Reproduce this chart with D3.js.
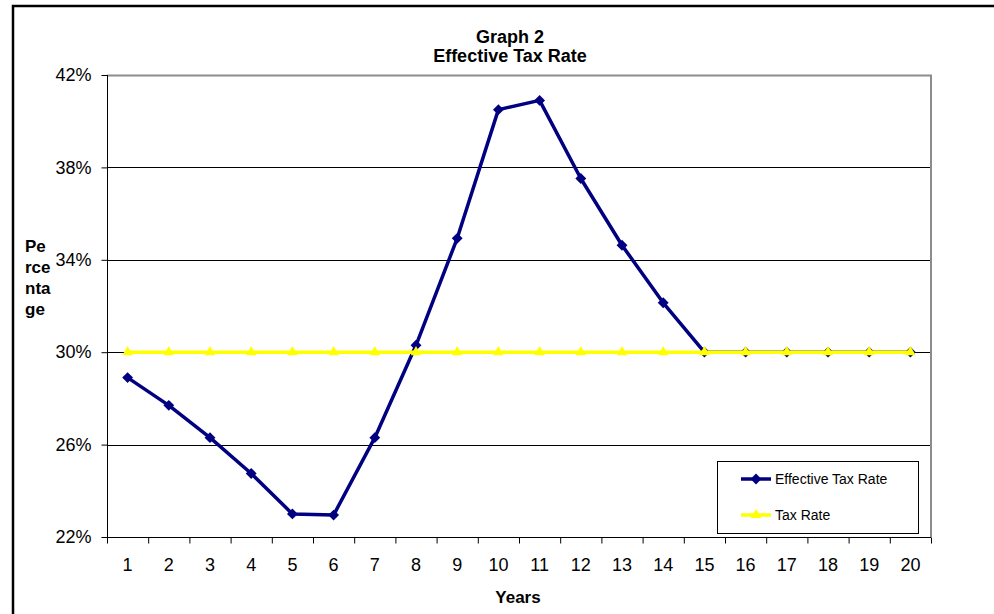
<!DOCTYPE html>
<html>
<head>
<meta charset="utf-8">
<script src="https://cdn.jsdelivr.net/npm/d3@7"></script>
<style>
  html, body { margin: 0; padding: 0; background: #fff; }
  svg { display: block; font-family: Arial, "Liberation Sans", sans-serif; }
</style>
</head>
<body>
<svg id="chart" width="994" height="614"></svg>
<script>
// Years on the horizontal axis
const years = d3.range(1, 21).map(String);
// Effective tax rate per year (%)
const effectiveRate = [28.9, 27.7, 26.3, 24.75, 23.0, 22.95, 26.3, 30.3, 34.93, 40.5,
                       40.9, 37.52, 34.63, 32.14, 30.0, 30.0, 30.0, 30.0, 30.0, 30.0];
// Statutory tax rate (%)
const taxRate = [30, 30, 30, 30, 30, 30, 30, 30, 30, 30,
                 30, 30, 30, 30, 30, 30, 30, 30, 30, 30];
const yTicks = [22, 26, 30, 34, 38, 42];
const seriesNames = ["Effective Tax Rate", "Tax Rate"];
const titleLines = ["Graph 2", "Effective Tax Rate"];
const yLabelLines = ["Pe", "rce", "nta", "ge"];

const svg = d3.select("#chart");
const plot = { left: 107, right: 931, top: 75, bottom: 537 };
const navy = "#000080", yellow = "#FFFF00";
const font = "Arial, 'Liberation Sans', sans-serif";

// Outer chart frame
svg.append("rect")
  .attr("x", 13).attr("y", 6).attr("width", 1000).attr("height", 640)
  .attr("fill", "none").attr("stroke", "#000").attr("stroke-width", 2.5);

const x = d3.scaleBand().domain(years).range([plot.left, plot.right]);
const xEdge = d3.scaleLinear().domain([0, years.length]).range([plot.left, plot.right]);
const y = d3.scaleLinear().domain([22, 42]).range([plot.bottom, plot.top]);

// Horizontal gridlines
svg.append("g").selectAll("line")
  .data(yTicks.filter(t => t > 22 && t < 42))
  .join("line")
  .attr("x1", plot.left).attr("x2", plot.right)
  .attr("y1", d => Math.round(y(d)) + 0.5).attr("y2", d => Math.round(y(d)) + 0.5)
  .attr("stroke", "#000").attr("stroke-width", 1);

// Plot area border (top and right)
svg.append("path")
  .attr("d", `M${plot.left},${plot.top + 0.5}H${plot.right}V${plot.bottom}`)
  .attr("fill", "none").attr("stroke", "#8c8c8c").attr("stroke-width", 2);

// Y axis
const yAxis = svg.append("g")
  .attr("transform", `translate(${plot.left + 0.5},0)`)
  .call(d3.axisLeft(y).tickValues(yTicks).tickSize(6).tickPadding(10)
        .tickFormat(d => d + "%"));
yAxis.selectAll("path, line").attr("stroke", "#000");
yAxis.select(".domain").attr("d", `M0,${plot.top}V${plot.bottom}`);
yAxis.selectAll("text").attr("font-size", 18).attr("fill", "#000").attr("font-family", font);

// X axis: tick marks at category edges
const xTickAxis = svg.append("g")
  .attr("transform", `translate(0,${plot.bottom + 0.5})`)
  .call(d3.axisBottom(xEdge).tickValues(d3.range(0, years.length + 1))
        .tickSize(6).tickFormat(""));
xTickAxis.selectAll("path, line").attr("stroke", "#000");
xTickAxis.select(".domain").attr("d", `M${plot.left},0H${plot.right}`);

// X axis labels centred in categories
const xLabelAxis = svg.append("g")
  .attr("transform", `translate(0,${plot.bottom})`)
  .call(d3.axisBottom(x).tickSize(0).tickPadding(21));
xLabelAxis.select(".domain").remove();
xLabelAxis.selectAll("text").attr("font-size", 18).attr("fill", "#000").attr("font-family", font);

// Titles
svg.append("g").selectAll("text").data(titleLines).join("text")
  .attr("x", 510).attr("y", (d, i) => 43 + i * 19)
  .attr("text-anchor", "middle").attr("font-weight", "bold").attr("font-size", 18)
  .text(d => d);

// Axis titles
svg.append("text").attr("x", 518).attr("y", 603)
  .attr("text-anchor", "middle").attr("font-weight", "bold").attr("font-size", 17)
  .text("Years");
svg.append("g").selectAll("text").data(yLabelLines).join("text")
  .attr("x", 25).attr("y", (d, i) => 252 + i * 21)
  .attr("font-weight", "bold").attr("font-size", 17)
  .text(d => d);

// Series
const line = d3.line().x((d, i) => x(years[i]) + x.bandwidth() / 2).y(d => y(d));
const diamond = d3.symbol().type(d3.symbolDiamond2).size(75);
const triangle = d3.symbol().type(d3.symbolTriangle).size(48);

function drawSeries(values, color, symbol) {
  svg.append("path").datum(values)
    .attr("d", line).attr("fill", "none")
    .attr("stroke", color).attr("stroke-width", 3.5).attr("stroke-linejoin", "round");
  svg.append("g").selectAll("path").data(values).join("path")
    .attr("transform", (d, i) => `translate(${x(years[i]) + x.bandwidth() / 2},${y(d)})`)
    .attr("d", symbol).attr("fill", color);
}
drawSeries(effectiveRate, navy, diamond);
drawSeries(taxRate, yellow, triangle);

// Legend
const legend = svg.append("g");
legend.append("rect").attr("x", 717.5).attr("y", 461.5).attr("width", 201).attr("height", 72)
  .attr("fill", "#fff").attr("stroke", "#000").attr("stroke-width", 1);
const legendRows = [
  { name: seriesNames[0], color: navy, symbol: diamond, y: 479 },
  { name: seriesNames[1], color: yellow, symbol: triangle, y: 515 }
];
legendRows.forEach(r => {
  legend.append("line").attr("x1", 741).attr("x2", 771).attr("y1", r.y).attr("y2", r.y)
    .attr("stroke", r.color).attr("stroke-width", 3.5);
  legend.append("path").attr("transform", `translate(756,${r.y})`)
    .attr("d", r.symbol).attr("fill", r.color);
  legend.append("text").attr("x", 775).attr("y", r.y + 5)
    .attr("font-size", 14).text(r.name);
});
</script>
</body>
</html>
